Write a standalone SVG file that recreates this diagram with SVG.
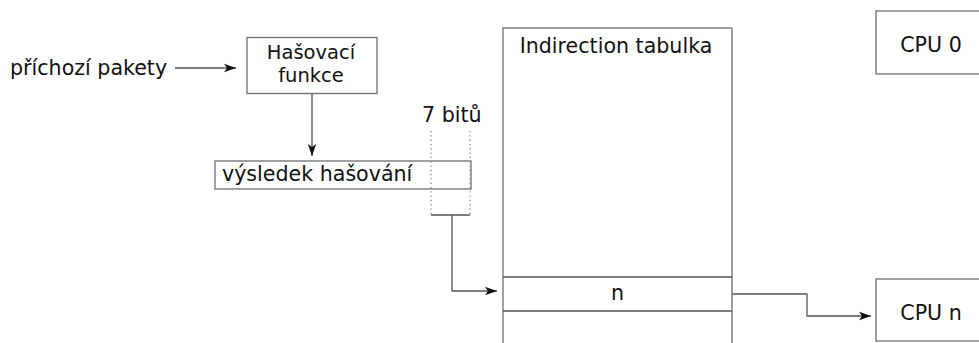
<svg xmlns="http://www.w3.org/2000/svg" width="979" height="343" viewBox="0 0 979 343">
<defs>
<style>
.box{fill:#fff;stroke:#6e6e6e;stroke-width:1.3}
.ln{fill:none;stroke:#555;stroke-width:1.3}
.dot{fill:none;stroke:#888;stroke-width:1.3;stroke-dasharray:1.3 3}
text{font-family:"DejaVu Sans",sans-serif;font-size:20.6px;fill:#111}
.tight{font-size:19.5px}
</style>
<marker id="ah" viewBox="0 0 10 10" refX="10" refY="5" markerWidth="12" markerHeight="12" markerUnits="userSpaceOnUse" orient="auto">
<path d="M0,1.5 L10,5 L0,8.5 L2.5,5 Z" fill="#111"/>
</marker>
</defs>
<rect width="979" height="343" fill="#fff"/>
<g id="input">
<text x="10" y="75">příchozí pakety</text>
</g>
<g id="hash">
<rect class="box" x="247" y="37.5" width="130" height="56"/>
<text class="tight" x="311" y="59" text-anchor="middle">Hašovací</text>
<text class="tight" x="311" y="82" text-anchor="middle">funkce</text>
</g>
<g id="result">
<rect class="box" x="215" y="161" width="256" height="28"/>
<text x="222" y="181">výsledek hašování</text>
</g>
<g id="bits">
<text x="422" y="122">7 bitů</text>
<line class="dot" x1="431" y1="131" x2="431" y2="214"/>
<line class="dot" x1="470" y1="131" x2="470" y2="214"/>
<line class="ln" x1="431" y1="215" x2="470" y2="215" stroke="#888"/>
</g>
<g id="table">
<rect class="box" x="503" y="28" width="229" height="330"/>
<line class="ln" x1="503" y1="277" x2="732" y2="277" stroke="#6e6e6e"/>
<line class="ln" x1="503" y1="311" x2="732" y2="311" stroke="#6e6e6e"/>
<text x="616" y="53" text-anchor="middle">Indirection tabulka</text>
<text x="617.5" y="300" text-anchor="middle">n</text>
</g>
<g id="cpu0">
<rect class="box" x="876" y="11" width="120" height="63"/>
<text x="931" y="52" text-anchor="middle">CPU 0</text>
</g>
<g id="cpun">
<rect class="box" x="876" y="279" width="120" height="62"/>
<text x="931" y="320" text-anchor="middle">CPU n</text>
</g>
<g id="connectors">
<line class="ln" x1="175" y1="68" x2="236" y2="68" marker-end="url(#ah)"/>
<line class="ln" x1="312" y1="93.5" x2="312" y2="156" marker-end="url(#ah)"/>
<polyline class="ln" points="452,215 452,291 497,291" marker-end="url(#ah)"/>
<polyline class="ln" points="732,294 807,294 807,316 871,316" marker-end="url(#ah)"/>
</g>
</svg>
